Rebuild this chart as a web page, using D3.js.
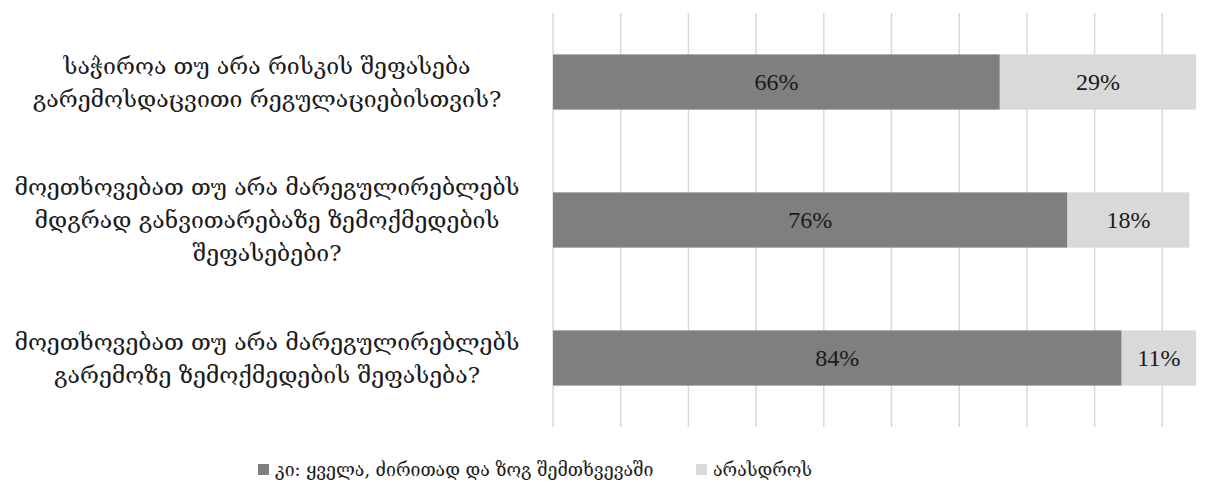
<!DOCTYPE html>
<html><head><meta charset="utf-8">
<script src="https://cdn.jsdelivr.net/npm/d3@7"></script>
<style>html,body{margin:0;padding:0;background:#fff;}</style>
</head><body>
<svg id="chart" width="1219" height="493"></svg>
<script>
const categories = [
  ["საჭიროა თუ არა რისკის შეფასება", "გარემოსდაცვითი რეგულაციებისთვის?"],
  ["მოეთხოვებათ თუ არა მარეგულირებლებს", "მდგრად განვითარებაზე ზემოქმედების", "შეფასებები?"],
  ["მოეთხოვებათ თუ არა მარეგულირებლებს", "გარემოზე ზემოქმედების შეფასება?"]
];
const seriesNames = ["კი: ყველა, ძირითად და ზოგ შემთხვევაში", "არასდროს"];
const yesValues = [66, 76, 84];
const neverValues = [29, 18, 11];
const gridTicks = [0, 10, 20, 30, 40, 50, 60, 70, 80, 90];
const colors = ["#7f7f7f", "#d9d9d9"];

const svg = d3.select("#chart");
const geo = "'DejaVu Serif', 'DejaVu Sans', serif";
const num = "'Liberation Serif', 'DejaVu Serif', serif";

const x = d3.scaleLinear().domain([0, 100]).range([553, 1230]);
const y = d3.scaleBand().domain(d3.range(categories.length)).range([13, 427]).paddingInner(0.6).paddingOuter(0.3);

// gridlines
svg.append("g").selectAll("line").data(gridTicks).join("line")
  .attr("x1", d => x(d)).attr("x2", d => x(d))
  .attr("y1", 13).attr("y2", 427)
  .attr("stroke", "#d9d9d9").attr("stroke-width", 1.5);

const stacks = categories.map((c, i) => [
  {i, s: 0, x0: 0, x1: yesValues[i], v: yesValues[i]},
  {i, s: 1, x0: yesValues[i], x1: yesValues[i] + neverValues[i], v: neverValues[i]}
]).flat();

svg.append("g").selectAll("rect").data(stacks).join("rect")
  .attr("x", d => x(d.x0)).attr("width", d => x(d.x1) - x(d.x0))
  .attr("y", d => y(d.i)).attr("height", y.bandwidth())
  .attr("fill", d => colors[d.s]);

svg.append("g").selectAll("text").data(stacks).join("text")
  .attr("x", d => (x(d.x0) + x(d.x1)) / 2)
  .attr("y", d => y(d.i) + y.bandwidth() / 2)
  .attr("dy", "0.35em")
  .attr("text-anchor", "middle")
  .attr("font-family", num).attr("font-size", 24).attr("fill", "#1a1a1a")
  .text(d => d.v + "%");

// category labels
const lh = 33;
categories.forEach((lines, i) => {
  const cy = y(i) + y.bandwidth() / 2;
  const t = svg.append("text")
    .attr("text-anchor", "middle")
    .attr("font-family", geo).attr("font-size", 23).attr("fill", "#1a1a1a");
  lines.forEach((ln, k) => {
    t.append("tspan").attr("x", 267)
      .attr("y", cy + (k - (lines.length - 1) / 2) * lh)
      .attr("dy", "0.35em").text(ln);
  });
});

// legend
const legendX = [258, 696];
const lg = svg.append("g");
seriesNames.forEach((n, i) => {
  lg.append("rect").attr("x", legendX[i]).attr("y", 464).attr("width", 11).attr("height", 11).attr("fill", colors[i]);
  lg.append("text").attr("x", legendX[i] + 17).attr("y", 470).attr("dy", "0.35em")
    .attr("font-family", geo).attr("font-size", 17.7).attr("fill", "#1a1a1a").text(n);
});
</script>
</body></html>
